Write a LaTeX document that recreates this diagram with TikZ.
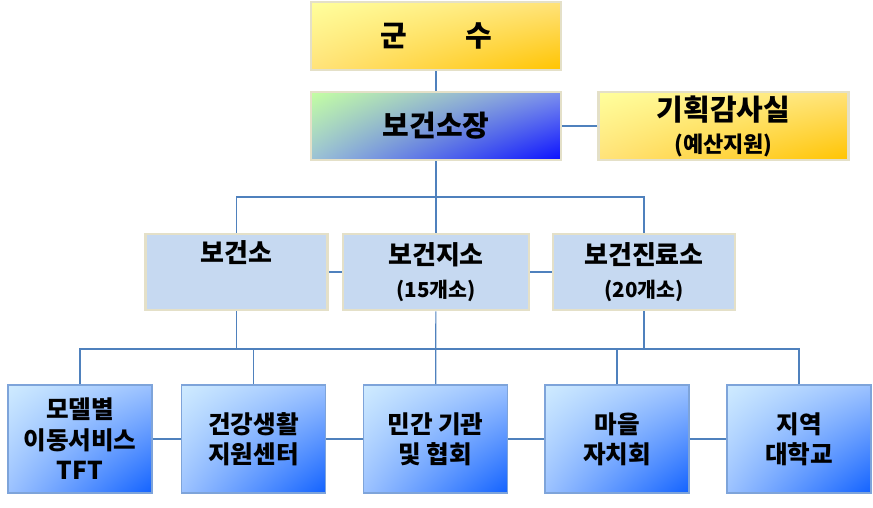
\documentclass[tikz,border=0pt]{standalone}
\usepackage{fontspec}
\setmainfont{Noto Sans CJK KR}
\usepackage{xcolor}
\usepackage{tikz}
\usetikzlibrary{calc,shadings}
\definecolor{link}{HTML}{4F81BD}
\definecolor{rimy}{HTML}{E4E0C8}
\definecolor{rimb}{HTML}{7EA4DA}
\definecolor{pale}{HTML}{C6D9F1}
\definecolor{yhi}{HTML}{FFFF9C}
\definecolor{ymid}{HTML}{FFE27A}
\definecolor{ylo}{HTML}{FFC400}
\definecolor{ghi}{HTML}{C4FFA2}
\definecolor{gur}{HTML}{7C90EE}
\definecolor{gll}{HTML}{9CC2D6}
\definecolor{glo}{HTML}{0A10FF}
\definecolor{bhi}{HTML}{CFEBFF}
\definecolor{bmid}{HTML}{9CC2FF}
\definecolor{blo}{HTML}{1262FF}
\tikzset{
  box/.style={draw=rimy, line width=1.3pt, align=center, inner sep=0pt,
    font=\bfseries\fontsize{14.5}{17}\selectfont},
  gold/.style={box, upper left=yhi, upper right=ymid, lower left=ymid, lower right=ylo},
  chief/.style={box, upper left=ghi, upper right=gur, lower left=gll, lower right=glo},
  unit/.style={box, fill=pale, minimum width=91pt, minimum height=38pt,
    font=\bfseries\fontsize{13}{16.5}\selectfont},
  part/.style={box, draw=rimb, line width=0.9pt, minimum width=72pt, minimum height=54pt,
    upper left=bhi, upper right=bmid, lower left=bmid, lower right=blo,
    font=\bfseries\fontsize{12.3}{15.2}\selectfont},
  conn/.style={draw=link, line width=0.6pt}
}
\newcommand{\subl}[1]{{\bfseries\fontsize{10.3}{12}\selectfont #1}}

\begin{document}
\begin{tikzpicture}[x=0.5pt, y=-0.5pt]
  \useasboundingbox (0,0) rectangle (873,508);

  % top rows
  \node[gold, minimum width=125pt, minimum height=34pt] (gunsu) at (436,36) {군\hspace{2em}수};
  \node[chief, minimum width=125pt, minimum height=34pt] (jang) at (436,126) {보건소장};
  \node[gold, minimum width=125pt, minimum height=34pt] (gihoek) at (723.5,126)
    {기획감사실\\[-1pt]{\bfseries\fontsize{11}{12}\selectfont (예산지원)}};

  % health units
  \node[unit] (bogeonso) at (236.5,272) {보건소\\\subl{\strut}};
  \node[unit, minimum width=93pt] (jiso) at (436,272) {보건지소\\\subl{(15개소)}};
  \node[unit] (jinryo) at (644,272) {보건진료소\\\subl{(20개소)}};

  % partners
  \node[part] (tft) at (80,439) {모델별\\이동서비스\\TFT};
  \node[part] (center) at (253.5,439) {건강생활\\지원센터};
  \node[part] (minkan) at (435.5,439) {민간 기관\\및 협회};
  \node[part] (maeul) at (617,439) {마을\\자치회};
  \node[part] (daehak) at (799,439) {지역\\대학교};

  \coordinate (bus2) at (436,197);
  \coordinate (bus3) at (436,349);

  \draw[conn] (gunsu) -- (jang);
  \draw[conn] (jang) -- (gihoek);
  \draw[conn] (jang) -- (jiso);
  \draw[conn] (bogeonso.north) |- (bus2) -| (jinryo.north);
  \draw[conn] (bogeonso) -- (jiso);
  \draw[conn] (jiso) -- (jinryo);

  \draw[conn] (jiso) -- (minkan);
  \draw[conn] (bogeonso.south) |- (bus3);
  \draw[conn] (jinryo.south) |- (bus3);
  \draw[conn] (tft.north) |- (bus3) -| (daehak.north);
  \draw[conn] (center.north) |- (bus3);
  \draw[conn] (maeul.north) |- (bus3);
  \draw[conn] (tft) -- (center);
  \draw[conn] (center) -- (minkan);
  \draw[conn] (minkan) -- (maeul);
  \draw[conn] (maeul) -- (daehak);
\end{tikzpicture}
\end{document}
